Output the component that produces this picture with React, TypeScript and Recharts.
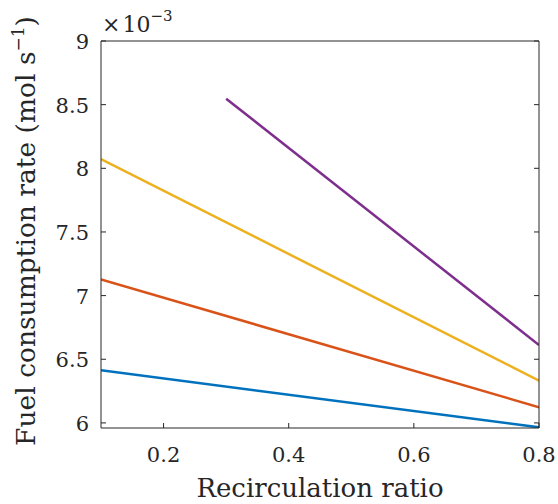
import { LineChart, Line, XAxis, YAxis } from "recharts";

// recirculation ratio (x) for each curve
const ratioFull = [0.1, 0.8];
const ratioPurple = [0.3, 0.8];

// fuel consumption rate, in units of 1e-3 mol/s
const fuelBlue = [6.413, 5.965];
const fuelRed = [7.127, 6.123];
const fuelYellow = [8.073, 6.332];
const fuelPurple = [8.547, 6.612];

const xTicks = [0.2, 0.4, 0.6, 0.8];
const yTicks = [6, 6.5, 7, 7.5, 8, 8.5, 9];

const SERIES = [
  { key: "blue", color: "#0072BD", x: ratioFull, y: fuelBlue },
  { key: "red", color: "#D95319", x: ratioFull, y: fuelRed },
  { key: "yellow", color: "#EDB120", x: ratioFull, y: fuelYellow },
  { key: "purple", color: "#7E2F8E", x: ratioPurple, y: fuelPurple },
];

const W = 558;
const H = 504;
// axes are 1px wide/high, so plot box is 101..539 x 41..428
const MARGIN = { top: 40, right: 18, bottom: 75, left: 100 };
const INK = "#262626";
const FONT = "'DejaVu Serif', serif";
const TICK_LEN = 5;

interface TickProps {
  x?: number;
  y?: number;
  payload?: { value: number };
}

function BottomTick({ x = 0, y = 0, payload }: TickProps) {
  return (
    <g>
      <line x1={x} x2={x} y1={y} y2={y - TICK_LEN} stroke={INK} />
      <text x={x} y={y + 34} textAnchor="middle" fontSize={21} fontFamily={FONT} fill={INK}>
        {payload?.value}
      </text>
    </g>
  );
}

function TopTick({ x = 0, y = 0 }: TickProps) {
  return <line x1={x} x2={x} y1={y} y2={y + TICK_LEN} stroke={INK} />;
}

function LeftTick({ x = 0, y = 0, payload }: TickProps) {
  return (
    <g>
      <line x1={x} x2={x + TICK_LEN} y1={y} y2={y} stroke={INK} />
      <text x={x - 12} y={y + 8} textAnchor="end" fontSize={21} fontFamily={FONT} fill={INK}>
        {payload?.value}
      </text>
    </g>
  );
}

function RightTick({ x = 0, y = 0 }: TickProps) {
  return <line x1={x} x2={x - TICK_LEN} y1={y} y2={y} stroke={INK} />;
}

const axisLine = { stroke: INK, strokeWidth: 1 };

export default function App() {
  return (
    <div style={{ position: "absolute", left: 0, top: 0, width: W, height: H, background: "#fff" }}>
      <LineChart width={W} height={H} margin={MARGIN}>
        <XAxis
          xAxisId={0}
          type="number"
          dataKey="x"
          domain={[0.1, 0.8]}
          ticks={xTicks}
          interval={0}
          height={1}
          tickSize={0}
          tickMargin={0}
          tickLine={false}
          axisLine={axisLine}
          tick={<BottomTick />}
          allowDataOverflow
        />
        <XAxis
          xAxisId="top"
          orientation="top"
          type="number"
          domain={[0.1, 0.8]}
          ticks={xTicks}
          interval={0}
          height={1}
          tickSize={0}
          tickMargin={0}
          tickLine={false}
          axisLine={axisLine}
          tick={<TopTick />}
          allowDataOverflow
        />
        <YAxis
          yAxisId={0}
          type="number"
          domain={[5.96, 9]}
          ticks={yTicks}
          interval={0}
          width={1}
          tickSize={0}
          tickMargin={0}
          tickLine={false}
          axisLine={axisLine}
          tick={<LeftTick />}
          allowDataOverflow
        />
        <YAxis
          yAxisId="right"
          orientation="right"
          type="number"
          domain={[5.96, 9]}
          ticks={yTicks}
          interval={0}
          width={1}
          tickSize={0}
          tickMargin={0}
          tickLine={false}
          axisLine={axisLine}
          tick={<RightTick />}
          allowDataOverflow
        />
        {SERIES.map(s => (
          <Line
            key={s.key}
            data={s.x.map((x, i) => ({ x, y: s.y[i] }))}
            dataKey="y"
            stroke={s.color}
            strokeWidth={2.5}
            dot={false}
            isAnimationActive={false}
          />
        ))}
      </LineChart>
      <svg
        width={W}
        height={H}
        style={{ position: "absolute", left: 0, top: 0, pointerEvents: "none" }}
        fontFamily={FONT}
        fill={INK}
      >
        <text x={320} y={497} textAnchor="middle" fontSize={26}>
          Recirculation ratio
        </text>
        <text transform="translate(35, 231) rotate(-90)" textAnchor="middle" fontSize={26.5}>
          Fuel consumption rate (mol s<tspan fontSize={17} dy={-11}>−1</tspan>
          <tspan dy={11}>)</tspan>
        </text>
        <text x={102} y={32} fontSize={22}>
          ×<tspan dx={2}>10</tspan>
          <tspan fontSize={15} dy={-11}>−3</tspan>
        </text>
      </svg>
    </div>
  );
}
